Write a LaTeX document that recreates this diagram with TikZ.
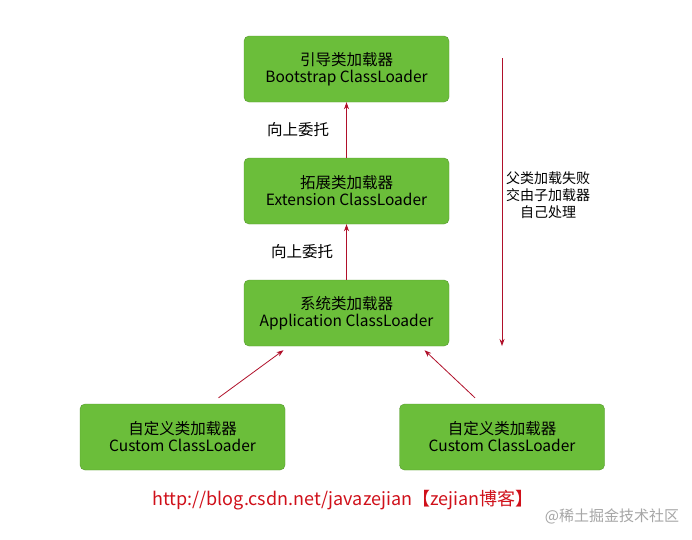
\documentclass[tikz,border=0pt]{standalone}
\usepackage{fontspec}
\setmainfont{Noto Sans CJK SC}
\usetikzlibrary{positioning, arrows.meta}
\definecolor{boxgreen}{HTML}{6BBE3A}
\definecolor{arrowred}{HTML}{B0102A}
\definecolor{linkred}{HTML}{D0101A}
\tikzset{
  loader/.style={draw=boxgreen!80!black, fill=boxgreen, rounded corners=5pt,
    minimum width=205pt, minimum height=66pt, align=center, font=\fontsize{15.5}{17}\selectfont, inner sep=0pt},
  delegate/.style={-{Stealth[length=7pt,width=5pt]}, draw=arrowred, line width=0.8pt},
  label/.style={font=\fontsize{15.5}{17}\selectfont, align=center}
}
\begin{document}
\begin{tikzpicture}[x=1pt, y=-1pt]
\useasboundingbox[fill=white] (0,0) rectangle (692,539);
\node[loader] (boot) at (346.5,69) {引导类加载器\\Bootstrap ClassLoader};
\node[loader] (ext) at (346.5,191) {拓展类加载器\\Extension ClassLoader};
\node[loader] (app) at (346.5,313) {系统类加载器\\Application ClassLoader};
\node[loader] (cust1) at (182.5,437) {自定义类加载器\\Custom ClassLoader};
\node[loader] (cust2) at (502,437) {自定义类加载器\\Custom ClassLoader};
% delegation upwards
\draw[delegate] (ext.north) -- (boot.south);
\draw[delegate] (app.north) -- (ext.south);
\draw[delegate] ([xshift=36pt,yshift=6pt]cust1.north) -- ([xshift=-63pt,yshift=-4pt]app.south);
\draw[delegate] ([xshift=-27pt,yshift=6pt]cust2.north) -- ([xshift=78pt,yshift=-4pt]app.south);
\node[label] (up1) at (298,130) {向上委托};
\node[label] (up2) at (302,252) {向上委托};
% failure goes back down
\coordinate (top) at (502,58);
\coordinate (bottom) at (502,346);
\draw[delegate] (top) -- (bottom);
\node[label, font=\fontsize{14}{17}\selectfont] (fail) at (548,195) {父类加载失败\\交由子加载器\\自己处理};
\node[font=\fontsize{18}{20}\selectfont, text=linkred] (link) at (343,500) {http://blog.csdn.net/javazejian【zejian博客】};
\node[font=\fontsize{15}{17}\selectfont, text=gray!70] (mark) at (612,516) {@稀土掘金技术社区};
\end{tikzpicture}
\end{document}
